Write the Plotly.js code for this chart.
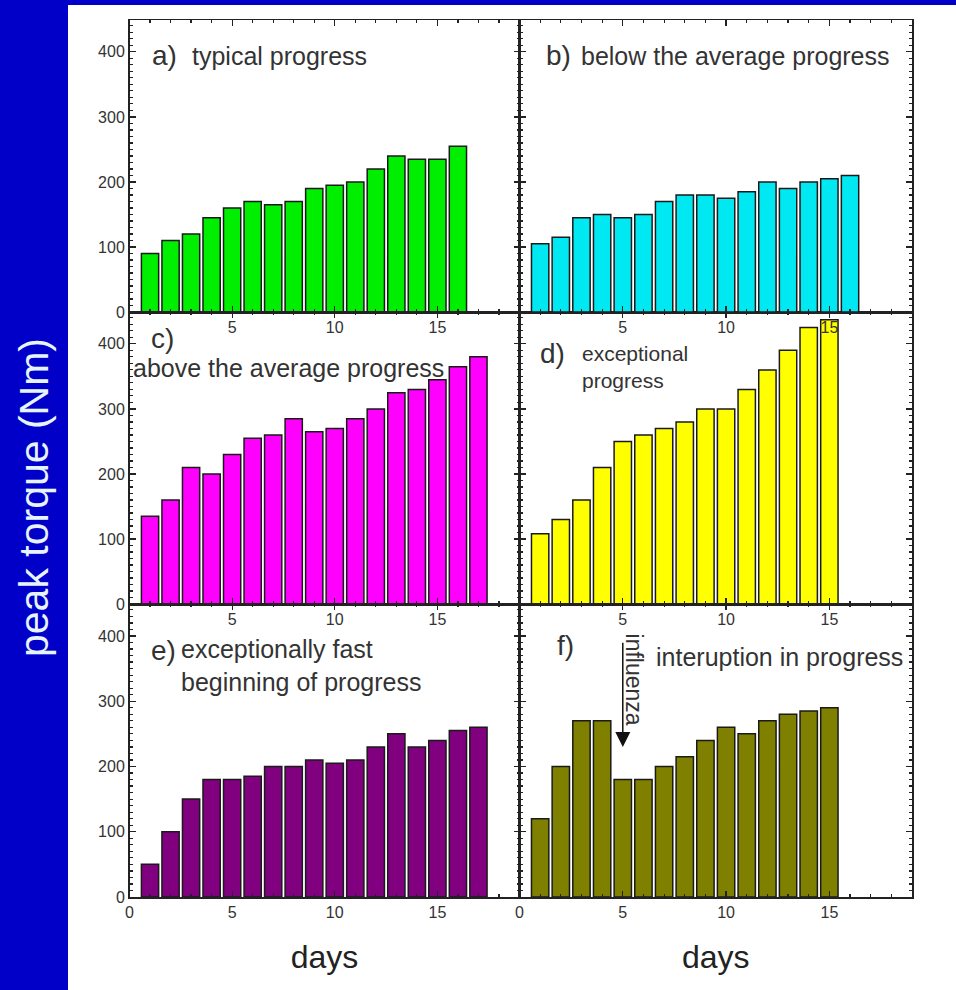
<!DOCTYPE html>
<html>
<head>
<meta charset="utf-8">
<script src="https://cdn.plot.ly/plotly-3.0.1.min.js"></script>
<style>
  html, body { margin: 0; padding: 0; background: #0000c8; }
  #chart { width: 956px; height: 990px; }
</style>
</head>
<body>
<div id="chart"></div>
<script>
// ---- data (days on x, peak torque in Nm on y) ----
const days15 = [1, 2, 3, 4, 5, 6, 7, 8, 9, 10, 11, 12, 13, 14, 15];
const days16 = [1, 2, 3, 4, 5, 6, 7, 8, 9, 10, 11, 12, 13, 14, 15, 16];
const days17 = [1, 2, 3, 4, 5, 6, 7, 8, 9, 10, 11, 12, 13, 14, 15, 16, 17];

const typicalProgress      = [90, 110, 120, 145, 160, 170, 165, 170, 190, 195, 200, 220, 240, 235, 235, 255];
const belowAverage         = [105, 115, 145, 150, 145, 150, 170, 180, 180, 175, 185, 200, 190, 200, 205, 210];
const aboveAverage         = [135, 160, 210, 200, 230, 255, 260, 285, 265, 270, 285, 300, 325, 330, 345, 365, 380];
const exceptionalProgress  = [108, 130, 160, 210, 250, 260, 270, 280, 300, 300, 330, 360, 390, 425, 437];
const fastBeginning        = [50, 100, 150, 180, 180, 185, 200, 200, 210, 205, 210, 230, 250, 230, 240, 255, 260];
const interruption         = [120, 200, 270, 270, 180, 180, 200, 215, 240, 260, 250, 270, 280, 285, 290];

const panelLabels = ['a)', 'b)', 'c)', 'd)', 'e)', 'f)'];
const panelTexts  = ['typical progress', 'below the average progress', 'above the average progress',
                     'exceptional<br>progress', 'exceptionally fast<br>beginning of progress', 'interuption in progress'];
const yTickVals = [0, 100, 200, 300, 400];
const xTickVals = [0, 5, 10, 15];
const xTickTextTop = ['', '5', '10', '15'];
const xTickTextBottom = ['0', '5', '10', '15'];
const xAxisTitle = 'days';
const yAxisTitle = 'peak torque (Nm)';
const noteText = 'influenza';

// ---- styling ----
const FONT = 'Liberation Sans, Arial, Helvetica, sans-serif';
const INK = '#333333';
const LINE = '#222222';
const colors = ['#00ee00', '#00e8f2', '#ff00ff', '#ffff00', '#800080', '#808000'];

function bar(x, y, color, xa, ya) {
  return {
    type: 'bar', x: x, y: y, xaxis: xa, yaxis: ya, width: 0.84,
    marker: { color: color, line: { color: '#1a1a1a', width: 1.5 } },
    hoverinfo: 'x+y', showlegend: false
  };
}

// subplot ids: a=xy, d=x2y2, c=x3y3, b=x4y4, e=x5y5, f=x6y6
// (b drawn after d so that b's tick labels sit over d's tallest bar, as in the reference)
const data = [
  bar(days16, typicalProgress, colors[0], 'x', 'y'),
  bar(days16, belowAverage, colors[1], 'x4', 'y4'),
  bar(days17, aboveAverage, colors[2], 'x3', 'y3'),
  bar(days15, exceptionalProgress, colors[3], 'x2', 'y2'),
  bar(days17, fastBeginning, colors[4], 'x5', 'y5'),
  bar(days15, interruption, colors[5], 'x6', 'y6')
];

const W = 956, H = 990;
const px = v => v / W;
const py = v => 1 - v / H;
const colDom = [[px(129.5), px(519.5)], [px(519.5), px(912)]];
const rowDom = [[py(312), py(20)], [py(604), py(312)], [py(897), py(604)]];

function xAxis(col, row, anchor) {
  const bottom = row === 2;
  const ax = {
    domain: colDom[col], range: [0, 19], anchor: anchor,
    showline: true, linecolor: LINE, linewidth: 1.5, mirror: 'allticks',
    ticks: 'inside', ticklen: 6, tickwidth: 1.2, tickcolor: LINE,
    tickmode: 'array', tickvals: xTickVals,
    ticktext: bottom ? xTickTextBottom : xTickTextTop,
    minor: { dtick: 1, tick0: 0, ticks: 'inside', ticklen: 3, tickcolor: LINE, showgrid: false },
    showgrid: false, zeroline: false, fixedrange: true,
    tickfont: { family: FONT, size: 16, color: INK }
  };
  if (bottom) {
    ax.title = { text: xAxisTitle, font: { family: FONT, size: 32, color: '#222' }, standoff: 26 };
  }
  return ax;
}
function yAxis(col, row, anchor) {
  return {
    domain: rowDom[row], range: [0, 449], anchor: anchor,
    showline: true, linecolor: LINE, linewidth: 1.5, mirror: 'allticks',
    ticks: 'inside', ticklen: 6, tickwidth: 1.2, tickcolor: LINE,
    tickmode: 'array', tickvals: yTickVals, showticklabels: col === 0,
    minor: { dtick: 10, tick0: 0, ticks: 'inside', ticklen: 3, tickcolor: LINE, showgrid: false },
    showgrid: false, zeroline: false, fixedrange: true,
    tickfont: { family: FONT, size: 16, color: INK }
  };
}

const layout = {
  width: W, height: H,
  margin: { l: 0, r: 0, t: 0, b: 0 },
  paper_bgcolor: '#0000c8',
  plot_bgcolor: 'rgba(0,0,0,0)',
  bargap: 0,
  xaxis:  xAxis(0, 0, 'y'),  yaxis:  yAxis(0, 0, 'x'),
  xaxis4: xAxis(1, 0, 'y4'), yaxis4: yAxis(1, 0, 'x4'),
  xaxis3: xAxis(0, 1, 'y3'), yaxis3: yAxis(0, 1, 'x3'),
  xaxis2: xAxis(1, 1, 'y2'), yaxis2: yAxis(1, 1, 'x2'),
  xaxis5: xAxis(0, 2, 'y5'), yaxis5: yAxis(0, 2, 'x5'),
  xaxis6: xAxis(1, 2, 'y6'), yaxis6: yAxis(1, 2, 'x6'),
  shapes: [
    { type: 'rect', xref: 'paper', yref: 'paper', x0: px(68), x1: 1, y0: 0, y1: py(5),
      fillcolor: '#ffffff', line: { width: 0 }, layer: 'below' }
  ],
  annotations: []
};

const T = (size) => ({ family: FONT, size: size, color: INK });
function note(xref, yref, x, y, text, size, extra) {
  return Object.assign({ xref: xref, yref: yref, x: x, y: y, text: text, showarrow: false,
    xanchor: 'left', yanchor: 'middle', align: 'left', font: T(size) }, extra || {});
}
const A = layout.annotations;
// a)
A.push(note('x', 'y', 1.0, 394, panelLabels[0], 28));
A.push(note('x', 'y', 2.95, 394, panelTexts[0], 25));
// b)
A.push(note('x4', 'y4', 1.2, 394, panelLabels[1], 28));
A.push(note('x4', 'y4', 2.9, 394, panelTexts[1], 25));
// c)
A.push(note('x3', 'y3', 0.95, 408, panelLabels[2], 28));
A.push(note('x3', 'y3', 0.05, 363, panelTexts[2], 25));
// d)
A.push(note('x2', 'y2', 0.9, 385, panelLabels[3], 28));
A.push(note('x2', 'y2', 2.95, 364, panelTexts[3], 21));
// e)
A.push(note('x5', 'y5', 0.95, 378, panelLabels[4], 28));
A.push(note('x5', 'y5', 2.4, 354, panelTexts[4], 25));
// f)
A.push(note('x6', 'y6', 1.7, 385, panelLabels[5], 28));
A.push(note('x6', 'y6', 6.5, 368, panelTexts[5], 25));
// influenza note + arrow
A.push({ xref: 'x6', yref: 'y6', x: 5.55, y: 333, text: noteText, textangle: 90,
  showarrow: false, font: T(23) });
A.push({ xref: 'x6', yref: 'y6', x: 5, y: 230, axref: 'x6', ayref: 'y6', ax: 5, ay: 392,
  text: '', showarrow: true, arrowhead: 2, arrowsize: 2, arrowwidth: 1.5, arrowcolor: '#111' });
// y-axis title on blue band
A.push({ xref: 'paper', yref: 'paper', x: px(34), y: py(498), xanchor: 'center', yanchor: 'middle',
  text: yAxisTitle, textangle: -90, showarrow: false,
  font: { family: FONT, size: 41, color: '#e6f4ff' } });

Plotly.newPlot('chart', data, layout, { displayModeBar: false, staticPlot: true });
</script>
</body>
</html>
